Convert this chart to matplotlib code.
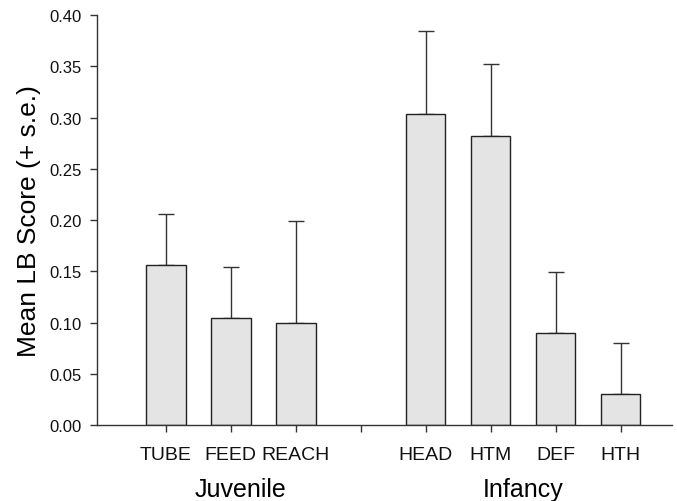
import matplotlib
matplotlib.use('Agg')
import matplotlib.pyplot as plt
import numpy as np

plt.rcParams['font.family'] = ['Liberation Sans', 'DejaVu Sans']

# Data
labels = ['TUBE', 'FEED', 'REACH', '', 'HEAD', 'HTM', 'DEF', 'HTH']
juvenile = ['TUBE', 'FEED', 'REACH']
infancy = ['HEAD', 'HTM', 'DEF', 'HTH']
juvenile_mean = [0.156, 0.104, 0.0995]
juvenile_se = [0.050, 0.050, 0.0995]
infancy_mean = [0.303, 0.282, 0.0895, 0.030]
infancy_se = [0.081, 0.070, 0.060, 0.050]
yticks = [0.00, 0.05, 0.10, 0.15, 0.20, 0.25, 0.30, 0.35, 0.40]

fig = plt.figure(figsize=(6.77, 5.02), dpi=100)
ax = fig.add_axes([0.1433, 0.1514, 0.850, 0.8166])

x_juv = np.arange(len(juvenile))
x_inf = np.arange(len(infancy)) + 4
bar_kw = dict(width=0.61, color='#e4e4e4', edgecolor='#222222', linewidth=1.0,
              zorder=2)
err_kw = dict(ecolor='#333333', elinewidth=1.0, capsize=5.5, capthick=1.0)

ax.bar(x_juv, juvenile_mean, **bar_kw)
ax.errorbar(x_juv, juvenile_mean, yerr=[np.zeros(3), juvenile_se], fmt='none',
            zorder=1, **err_kw)
ax.bar(x_inf, infancy_mean, **bar_kw)
ax.errorbar(x_inf, infancy_mean, yerr=[np.zeros(4), infancy_se], fmt='none',
            zorder=1, **err_kw)

ax.set_xlim(-1.06, 7.8)
ax.set_ylim(0, 0.40)
ax.set_xticks(np.arange(len(labels)))
ax.set_xticklabels(labels, fontsize=14)
ax.set_yticks(yticks)
ax.set_yticklabels(['%.2f' % v for v in yticks], fontsize=12)
ax.tick_params(axis='both', direction='out', length=5, width=1,
               color='#333333', labelcolor='#111111')
ax.tick_params(axis='x', pad=10)
ax.tick_params(axis='y', pad=6)

for s in ['top', 'right']:
    ax.spines[s].set_visible(False)
for s in ['left', 'bottom']:
    ax.spines[s].set_color('#333333')
    ax.spines[s].set_linewidth(1.0)

ax.set_ylabel('Mean LB Score (+ s.e.)', fontsize=19, labelpad=6)

# group labels under the tick labels
ax.text(1.15, -0.062, 'Juvenile', fontsize=18, ha='center', va='center',
        clip_on=False)
ax.text(5.5, -0.062, 'Infancy', fontsize=18, ha='center', va='center',
        clip_on=False)

fig.savefig('out.png', dpi=100)
